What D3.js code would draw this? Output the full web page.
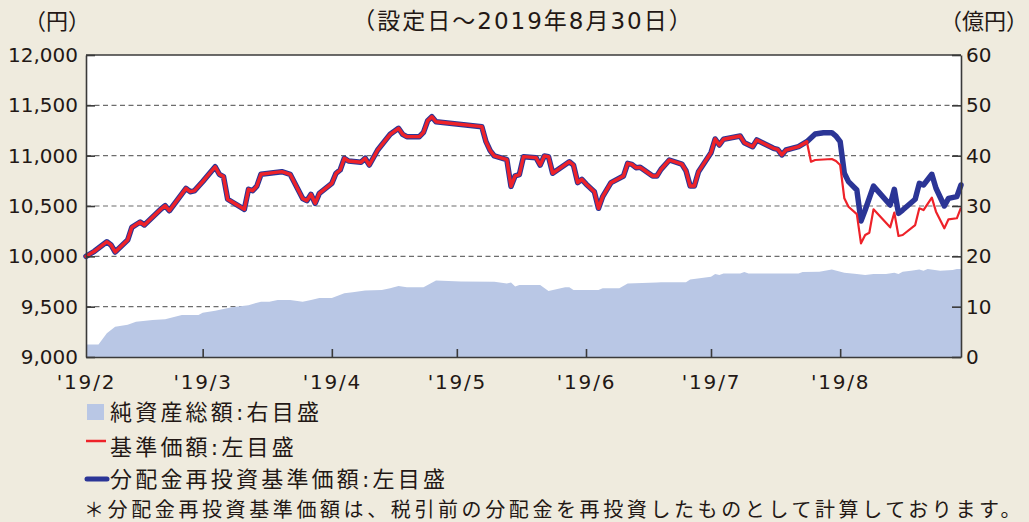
<!DOCTYPE html>
<html><head><meta charset="utf-8">
<script src="https://cdn.jsdelivr.net/npm/d3@7"></script>
<style>
html,body{margin:0;padding:0;background:#efebde;}
svg{display:block;}
text{font-family:"DejaVu Sans","Noto Sans CJK JP",sans-serif;fill:#231815;}
</style></head><body>
<svg id="c" width="1029" height="522"></svg>
<script>
// ---- data ----
const priceDates = ["2019-02-01","2019-02-03","2019-02-06","2019-02-07","2019-02-08","2019-02-11","2019-02-12","2019-02-14","2019-02-15","2019-02-19","2019-02-20","2019-02-21","2019-02-25","2019-02-26","2019-02-27","2019-03-01","2019-03-04","2019-03-05","2019-03-06","2019-03-07","2019-03-11","2019-03-12","2019-03-13","2019-03-14","2019-03-15","2019-03-18","2019-03-20","2019-03-22","2019-03-25","2019-03-26","2019-03-27","2019-03-28","2019-03-29","2019-04-01","2019-04-02","2019-04-03","2019-04-04","2019-04-05","2019-04-08","2019-04-09","2019-04-10","2019-04-12","2019-04-15","2019-04-17","2019-04-18","2019-04-19","2019-04-22","2019-04-23","2019-04-24","2019-04-25","2019-04-26","2019-05-07","2019-05-08","2019-05-09","2019-05-10","2019-05-13","2019-05-14","2019-05-15","2019-05-16","2019-05-17","2019-05-20","2019-05-21","2019-05-22","2019-05-23","2019-05-24","2019-05-28","2019-05-29","2019-05-30","2019-05-31","2019-06-01","2019-06-03","2019-06-04","2019-06-05","2019-06-07","2019-06-10","2019-06-11","2019-06-12","2019-06-13","2019-06-14","2019-06-17","2019-06-18","2019-06-19","2019-06-21","2019-06-24","2019-06-25","2019-06-26","2019-06-27","2019-06-28","2019-07-01","2019-07-02","2019-07-03","2019-07-04","2019-07-08","2019-07-09","2019-07-11","2019-07-12","2019-07-16","2019-07-17","2019-07-18","2019-07-19","2019-07-22","2019-07-24","2019-07-25","2019-07-26","2019-07-28","2019-07-30","2019-07-31","2019-08-01","2019-08-02","2019-08-03","2019-08-05","2019-08-06","2019-08-07","2019-08-08","2019-08-09","2019-08-13","2019-08-14","2019-08-15","2019-08-16","2019-08-19","2019-08-20","2019-08-21","2019-08-23","2019-08-24","2019-08-26","2019-08-27","2019-08-29","2019-08-30"];

// 基準価額 (left axis, 円)
const basePrice = [10000,10050,10145,10113,10043,10162,10288,10341,10311,10470,10503,10453,10675,10642,10650,10742,10890,10815,10792,10567,10467,10666,10652,10698,10815,10831,10841,10815,10575,10553,10616,10527,10626,10725,10825,10858,10974,10947,10934,10974,10907,11056,11212,11272,11212,11189,11189,11232,11347,11387,11337,11288,11139,11050,10997,10960,10695,10800,10812,10990,10980,10907,10997,10990,10825,10940,10907,10732,10765,10719,10642,10477,10593,10732,10798,10924,10914,10881,10884,10798,10798,10864,10957,10917,10851,10698,10698,10841,11030,11166,11106,11163,11195,11129,11089,11156,11073,11063,11007,11056,11089,11139,10940,10957,null,10967,10947,10907,10576,10493,10420,10129,10212,10235,10467,10288,10434,10202,10212,10311,10477,10460,10583,10444,10278,10368,10378,10483];

// 分配金再投資基準価額 (left axis, 円)
const reinvestPrice = [10000,10050,10145,10113,10043,10162,10288,10341,10311,10470,10503,10453,10675,10642,10650,10742,10890,10815,10792,10567,10467,10666,10652,10698,10815,10831,10841,10815,10575,10553,10616,10527,10626,10725,10825,10858,10974,10947,10934,10974,10907,11056,11212,11272,11212,11189,11189,11232,11347,11387,11337,11288,11139,11050,10997,10960,10695,10800,10812,10990,10980,10907,10997,10990,10825,10940,10907,10732,10765,10719,10642,10477,10593,10732,10798,10924,10914,10881,10884,10798,10798,10864,10957,10917,10851,10698,10698,10841,11030,11166,11106,11163,11195,11129,11089,11156,11073,11063,11007,11056,11089,11139,null,11215,11228,11228,11195,11139,10825,10742,10659,10351,10460,null,10698,10510,10666,10427,10460,10567,10725,10709,10815,10676,10500,10576,10593,10709];

// 純資産総額 (right axis, 億円)
const navDates = ["2019-02-01","2019-02-04","2019-02-06","2019-02-08","2019-02-11","2019-02-13","2019-02-17","2019-02-20","2019-02-24","2019-02-28","2019-03-01","2019-03-04","2019-03-08","2019-03-12","2019-03-15","2019-03-17","2019-03-19","2019-03-22","2019-03-25","2019-03-27","2019-03-29","2019-04-01","2019-04-04","2019-04-06","2019-04-09","2019-04-13","2019-04-15","2019-04-17","2019-04-19","2019-04-23","2019-04-26","2019-05-02","2019-05-10","2019-05-13","2019-05-14","2019-05-15","2019-05-16","2019-05-21","2019-05-23","2019-05-27","2019-05-28","2019-05-29","2019-06-04","2019-06-05","2019-06-09","2019-06-11","2019-06-18","2019-06-19","2019-06-25","2019-06-26","2019-07-01","2019-07-02","2019-07-03","2019-07-04","2019-07-08","2019-07-09","2019-07-10","2019-07-22","2019-07-23","2019-07-27","2019-07-30","2019-08-02","2019-08-05","2019-08-07","2019-08-09","2019-08-12","2019-08-14","2019-08-15","2019-08-16","2019-08-18","2019-08-20","2019-08-21","2019-08-22","2019-08-25","2019-08-28","2019-08-29","2019-08-30"];
const netAssets = [2.5,2.5,4.7,6.0,6.4,7.0,7.35,7.5,8.35,8.35,8.8,9.2,9.9,10.3,11.0,11.0,11.3,11.3,11.0,11.3,11.7,11.7,12.65,12.85,13.2,13.3,13.65,14.1,13.85,13.85,15.2,15.0,14.97,14.6,14.8,14.0,14.3,14.3,13.1,13.85,13.85,13.3,13.3,13.65,13.65,14.6,14.8,14.85,14.85,15.4,15.95,16.5,16.3,16.6,16.6,16.9,16.6,16.6,16.9,16.95,17.4,16.75,16.5,16.3,16.5,16.5,16.75,16.5,16.95,17.15,17.4,17.15,17.5,17.15,17.3,17.5,17.5];

const leftTicks = [9000,9500,10000,10500,11000,11500,12000];
const rightTicks = [0,10,20,30,40,50,60];
const monthTicks = ["2019-02-01","2019-03-01","2019-04-01","2019-05-01","2019-06-01","2019-07-01","2019-08-01"];
const divergeDate = "2019-07-24";

// ---- drawing ----
const parse = d3.timeParse("%Y-%m-%d");
const svg = d3.select("#c");
const L = 86, R = 961, T = 55, B = 357;

const x = d3.scaleTime().domain([parse("2019-02-01"), parse("2019-08-30")]).range([L, R]);
const yL = d3.scaleLinear().domain([9000, 12000]).range([B, T]);
const yR = d3.scaleLinear().domain([0, 60]).range([B, T]);

const COL_AREA = "#b9c7e5", COL_RED = "#ee2229", COL_BLUE = "#2b3596", COL_AX = "#3a3a3a";

svg.append("rect").attr("x", L).attr("y", T).attr("width", R - L).attr("height", B - T).attr("fill", "#ffffff");

// grid
svg.append("g").selectAll("line").data(leftTicks.filter(v => v > 9000 && v < 12000)).join("line")
  .attr("x1", L).attr("x2", R).attr("y1", d => yL(d)).attr("y2", d => yL(d))
  .attr("stroke", "#6d6d6d").attr("stroke-width", 1.2).attr("stroke-dasharray", "5,3.5");

// area
const navData = navDates.map((d, i) => ({ date: parse(d), v: netAssets[i] }));
svg.append("path").datum(navData)
  .attr("fill", COL_AREA)
  .attr("d", d3.area().x(d => x(d.date)).y0(yR(0)).y1(d => yR(d.v)));

// lines
const mk = arr => priceDates.map((d, i) => ({ date: parse(d), v: arr[i] })).filter(d => d.v != null);
const blueData = mk(reinvestPrice);
const redData = mk(basePrice);
const lineGen = d3.line().x(d => x(d.date)).y(d => yL(d.v));
const dv = parse(divergeDate);

svg.append("path").datum(blueData).attr("fill", "none").attr("stroke", COL_BLUE)
  .attr("stroke-width", 5.5).attr("stroke-linejoin", "round").attr("stroke-linecap", "round").attr("d", lineGen);
svg.append("path").datum(redData.filter(d => d.date >= dv)).attr("fill", "none").attr("stroke", COL_RED)
  .attr("stroke-width", 2.2).attr("stroke-linejoin", "round").attr("d", lineGen);
svg.append("path").datum(redData.filter(d => d.date <= dv)).attr("fill", "none").attr("stroke", COL_RED)
  .attr("stroke-width", 3.4).attr("stroke-linejoin", "round").attr("stroke-linecap", "round").attr("d", lineGen);

// axes
const fs = 20;
const gL = svg.append("g").attr("transform", `translate(${L},0)`)
  .call(d3.axisLeft(yL).tickValues(leftTicks).tickFormat(d3.format(",")).tickSizeInner(-9).tickSizeOuter(0).tickPadding(8));
const gR = svg.append("g").attr("transform", `translate(${R},0)`)
  .call(d3.axisRight(yR).tickValues(rightTicks).tickFormat(d3.format("d")).tickSizeInner(-9).tickSizeOuter(0).tickPadding(5));
const gB = svg.append("g").attr("transform", `translate(0,${B})`)
  .call(d3.axisBottom(x).tickValues(monthTicks.map(parse)).tickFormat(d3.timeFormat("'%y/%-m")).tickSizeInner(-8).tickSizeOuter(0).tickPadding(18));
[gL, gR, gB].forEach(g => {
  g.select(".domain").attr("stroke", COL_AX).attr("stroke-width", 1.6);
  g.selectAll(".tick line").attr("stroke", COL_AX).attr("stroke-width", 1.6);
  g.selectAll("text").attr("font-size", fs).attr("fill", "#231815")
    .attr("font-family", '"DejaVu Sans","Noto Sans CJK JP",sans-serif');
});
gB.selectAll("text").attr("letter-spacing", 1.8);
gB.selectAll(".tick").filter((d, i) => i === 0).select("line").remove();
// top border
svg.append("line").attr("x1", L).attr("x2", R).attr("y1", T).attr("y2", T).attr("stroke", COL_AX).attr("stroke-width", 1.6);

// titles
svg.append("text").attr("x", 57).attr("y", 29).attr("text-anchor", "middle").attr("font-size", 22).text("（円）");
svg.append("text").attr("x", 523).attr("y", 29).attr("text-anchor", "middle").attr("font-size", 23).attr("letter-spacing", 2)
  .text("（設定日～2019年8月30日）");
svg.append("text").attr("x", 1028).attr("y", 29).attr("text-anchor", "end").attr("font-size", 22).text("（億円）");

// legend
const lg = svg.append("g");
lg.append("rect").attr("x", 87).attr("y", 404).attr("width", 17).attr("height", 16).attr("fill", COL_AREA);
lg.append("line").attr("x1", 86).attr("x2", 106).attr("y1", 441).attr("y2", 441).attr("stroke", COL_RED).attr("stroke-width", 2.5);
lg.append("line").attr("x1", 87).attr("x2", 107).attr("y1", 479).attr("y2", 479).attr("stroke", COL_BLUE).attr("stroke-width", 5).attr("stroke-linecap", "round");
const legendTexts = ["純資産総額:右目盛", "基準価額:左目盛", "分配金再投資基準価額:左目盛"];
lg.selectAll("text.lt").data(legendTexts).join("text").attr("class", "lt")
  .attr("x", 110).attr("y", (d, i) => [420, 454.5, 486.5][i])
  .attr("font-size", 22).attr("letter-spacing", 3.2)
  .attr("font-family", '"Noto Sans CJK JP",sans-serif').text(d => d);
svg.append("text").attr("x", 84).attr("y", 516.5).attr("font-size", 20).attr("letter-spacing", 3.6)
  .attr("font-family", '"Noto Sans CJK JP",sans-serif')
  .text("＊分配金再投資基準価額は、税引前の分配金を再投資したものとして計算しております。");
</script></body></html>
